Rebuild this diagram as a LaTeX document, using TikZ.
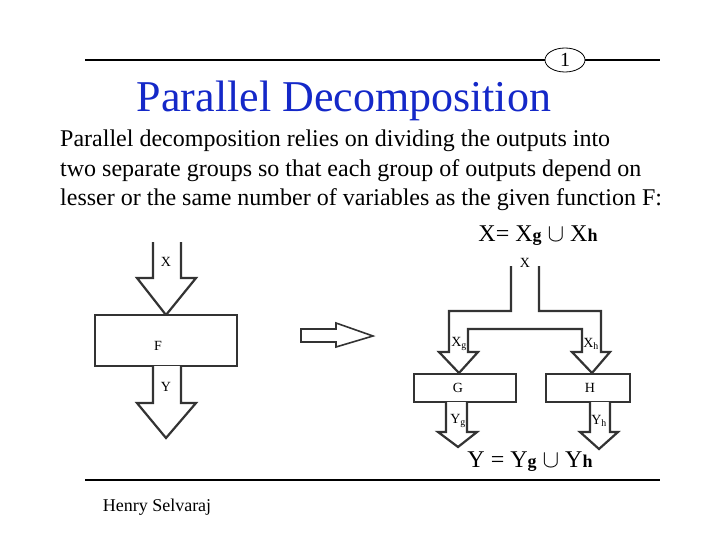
\documentclass[tikz,border=0pt]{standalone}
\usepackage{fontspec}
\usetikzlibrary{shapes.geometric}
\setmainfont{Liberation Serif}
\begin{document}
\begin{tikzpicture}[x=1pt,y=-1pt,
  shp/.style={draw=black!80,line width=2.2pt,fill=white,line join=miter},
  lbl/.style={font=\fontsize{14}{14}\selectfont,inner sep=0},
  body/.style={font=\fontsize{24}{28}\selectfont,anchor=west,inner sep=0}]
\useasboundingbox (0,0) rectangle (720,540);
% header
\draw[line width=1.5pt] (85,60) -- (660,60);
\draw[line width=1.5pt] (85,480) -- (660,480);
\node[draw,line width=0.8pt,fill=white,ellipse,minimum width=40,minimum height=24,inner sep=0,font=\fontsize{20}{20}\selectfont] (pg) at (565,60) {1};
\node[font=\fontsize{44}{44}\selectfont,text={rgb,255:red,20;green,40;blue,200},inner sep=0] (title) at (344,101) {Parallel Decomposition};
\node[body] (t1) at (60,141) {Parallel decomposition relies on dividing the outputs into};
\node[body] (t2) at (60,171) {two separate groups so that each group of outputs depend on};
\node[body] (t3) at (60,200) {lesser or the same number of variables as the given function F:};
\node[font=\fontsize{24}{24}\selectfont,inner sep=0] (eq1) at (538,236) {X= X\textbf{\fontsize{18}{18}\selectfont g} $\cup$ X\textbf{\fontsize{18}{18}\selectfont h}};
\node[font=\fontsize{24}{24}\selectfont,inner sep=0] (eq2) at (530,462) {Y = Y\textbf{\fontsize{18}{18}\selectfont g} $\cup$ Y\textbf{\fontsize{18}{18}\selectfont h}};
\node[font=\fontsize{18}{18}\selectfont,inner sep=0] (auth) at (157,507) {Henry Selvaraj};
% left F
\draw[shp] (153,242) -- (153,278) -- (137,278) -- (166,315) -- (196,278) -- (181,278) -- (181,242);
\draw[shp] (95,315) rectangle (237,366);
\draw[shp] (153,366) -- (153,403) -- (137,403) -- (166,438) -- (196,403) -- (181,403) -- (181,366);
\node[lbl] (lx) at (166,262) {X};
\node[lbl] (lf) at (158,346) {F};
\node[lbl] (ly) at (166,387) {Y};
% big arrow
\draw[shp,line width=1.6pt] (301,329) -- (336,329) -- (336,323) -- (373,336) -- (336,347) -- (336,342) -- (301,342) -- cycle;
% right
\draw[shp] (511,266) -- (511,311) -- (449,311) -- (449,352) -- (439,352) -- (459,373) -- (478,352) -- (468,352) -- (468,329) -- (582,329) -- (582,352) -- (572,352) -- (592,373) -- (610,352) -- (601,352) -- (601,311) -- (539,311) -- (539,266);
\draw[shp] (414,374) rectangle (516,402);
\draw[shp] (546,374) rectangle (630,402);
\draw[shp] (446,402) -- (446,432) -- (438,432) -- (458,447) -- (477,432) -- (467,432) -- (467,402);
\draw[shp] (590,402) -- (590,432) -- (580,432) -- (599,449) -- (618,432) -- (610,432) -- (610,402);
\node[lbl] (rx) at (525,263) {X};
\node[lbl] (xg) at (459,344) {X\textsubscript{g}};
\node[lbl] (xh) at (591,344) {X\textsubscript{h}};
\node[lbl] (g) at (458,388) {G};
\node[lbl] (h) at (590,388) {H};
\node[lbl] (yg) at (458,421) {Y\textsubscript{g}};
\node[lbl] (yh) at (599,421) {Y\textsubscript{h}};
\end{tikzpicture}
\end{document}
